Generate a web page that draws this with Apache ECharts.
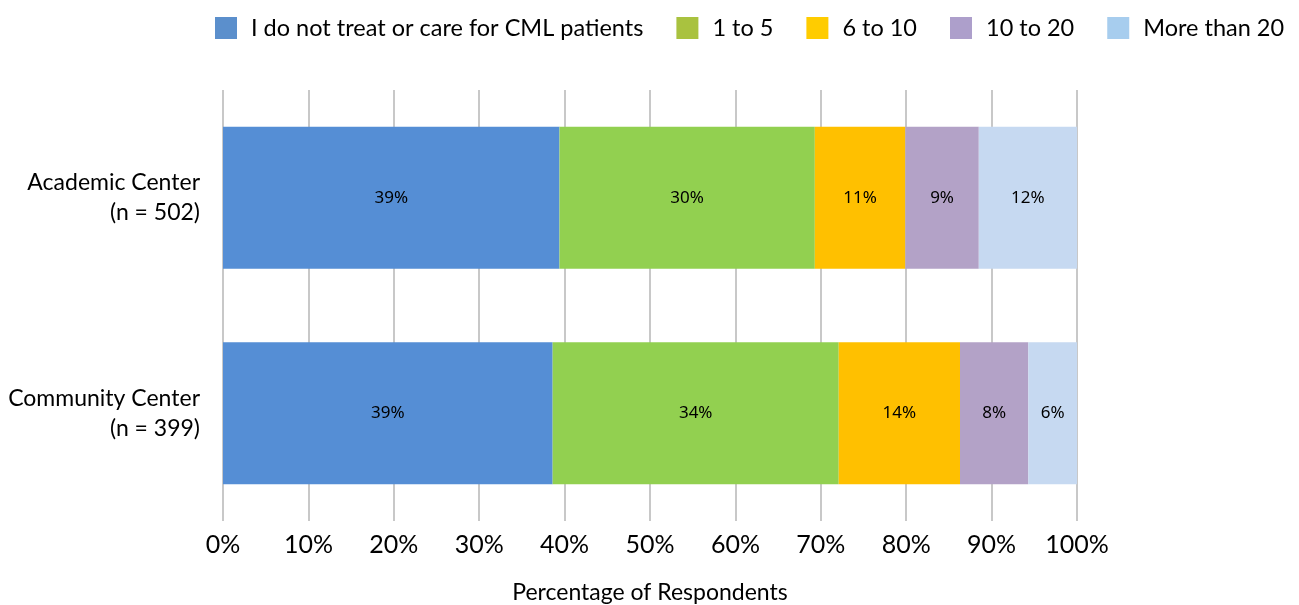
<!DOCTYPE html>
<html>
<head>
<meta charset="utf-8">
<script src="https://cdn.jsdelivr.net/npm/echarts@6/dist/echarts.min.js"></script>
<style>
  html, body { margin: 0; padding: 0; background: #fff; }
  #chart { width: 1299px; height: 605px; }
</style>
</head>
<body>
<div id="chart"></div>
<script>
// categories (top to bottom)
const centers = ['Academic Center\n(n = 502)', 'Community Center\n(n = 399)']
const groups = ['I do not treat or care for CML patients', '1 to 5', '6 to 10', '10 to 20', 'More than 20']

// share of respondents (%) per group, one value per center
const noCml = [39.4, 38.6]
const oneToFive = [29.9, 33.5]
const sixToTen = [10.6, 14.2]
const tenToTwenty = [8.6, 8.0]
const moreThanTwenty = [11.5, 5.7]

const ticks = [0, 10, 20, 30, 40, 50, 60, 70, 80, 90, 100]

const barColors = ['#558ed5', '#92d050', '#ffc000', '#b3a2c7', '#c6d9f1']
const legendColors = ['#5b8fcc', '#a9c23f', '#ffcc00', '#ad9fcb', '#a7cdee']

const font = 'Lato'
const chart = echarts.init(document.getElementById('chart'))

const seriesData = [noCml, oneToFive, sixToTen, tenToTwenty, moreThanTwenty]

const option = {
  animation: false,
  legend: {
    top: 11,
    left: 210,
    itemWidth: 22,
    itemHeight: 22,
    itemGap: 33,
    icon: 'rect',
    textStyle: { fontFamily: font, fontSize: 23.5, color: '#000', padding: [0, 0, 0, 9] },
    data: groups.map((g, i) => ({ name: g, itemStyle: { color: legendColors[i] } }))
  },
  grid: { left: 223, right: 222, top: 90, bottom: 84, outerBoundsMode: 'none' },
  xAxis: {
    type: 'value',
    min: 0,
    max: 100,
    interval: 10,
    axisLine: { show: false },
    axisTick: { show: false },
    splitLine: { lineStyle: { color: '#c8c8c8', width: 2 } },
    axisLabel: {
      fontFamily: font, fontSize: 25, color: '#000', margin: 11,
      formatter: v => ticks.includes(v) ? v + '%' : ''
    },
    name: 'Percentage of Respondents',
    nameLocation: 'middle',
    nameGap: 60,
    nameTextStyle: { fontFamily: font, fontSize: 23, color: '#000' }
  },
  yAxis: {
    type: 'category',
    inverse: true,
    data: centers,
    axisLine: { show: false },
    axisTick: { show: false },
    axisLabel: {
      fontFamily: font, fontSize: 23, color: '#000', margin: 23,
      align: 'right', lineHeight: 30
    }
  },
  series: seriesData.map((d, i) => ({
    name: groups[i],
    type: 'bar',
    stack: 'total',
    data: d,
    barWidth: '66%',
    itemStyle: { color: barColors[i] },
    label: {
      show: true,
      position: 'inside',
      fontFamily: 'Noto Sans',
      fontSize: 17,
      color: '#000',
      formatter: p => Math.round(p.value) + '%'
    }
  }))
}

chart.setOption(option)
</script>
</body>
</html>
